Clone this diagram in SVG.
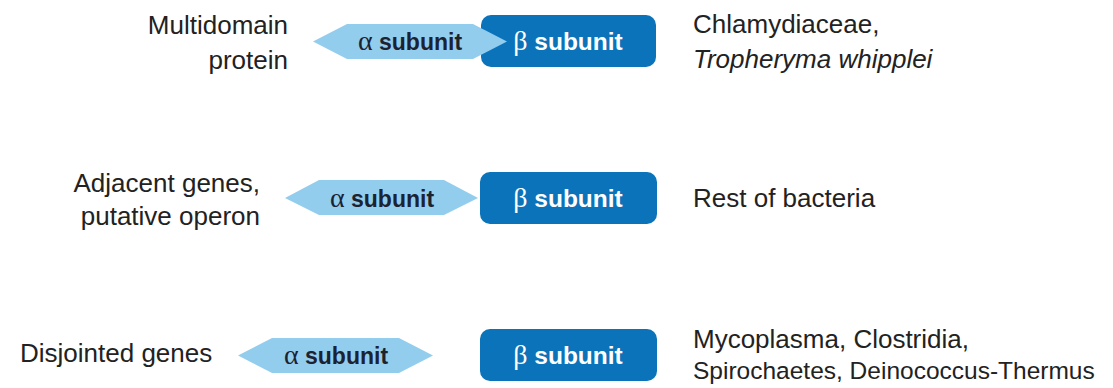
<svg xmlns="http://www.w3.org/2000/svg" width="1113" height="388" viewBox="0 0 1113 388">
  <style>
    .label { font-family: "Liberation Sans", Arial, sans-serif; font-size: 26px; fill: #222222; }
    .italic { font-style: italic; }
    .tight { font-size: 24.5px; }
    .alpha { fill: #93cdee; }
    .beta { fill: #0b73b9; }
    .atext { font-family: "Liberation Sans", Arial, sans-serif; font-size: 23px; font-weight: bold; fill: #1c2230; }
    .btext { font-family: "Liberation Sans", Arial, sans-serif; font-size: 24.5px; font-weight: bold; fill: #ffffff; }
    .greek { font-family: "Liberation Serif", "Times New Roman", serif; font-weight: normal; font-size: 28px; }
  </style>

  <!-- Row 1: multidomain protein -->
  <g id="row1-label">
    <text class="label" x="288" y="34" text-anchor="end">Multidomain</text>
    <text class="label" x="288" y="69" text-anchor="end">protein</text>
  </g>
  <g id="row1-beta">
    <rect class="beta" x="481" y="15" width="175" height="52" rx="10"/>
    <text class="btext" x="568" y="50" text-anchor="middle"><tspan class="greek">β</tspan> subunit</text>
  </g>
  <g id="row1-alpha">
    <polygon class="alpha" points="313,41.5 347,24 473,24 507,41.5 473,59 347,59"/>
    <text class="atext" x="410" y="50" text-anchor="middle"><tspan class="greek">α</tspan> subunit</text>
  </g>
  <g id="row1-taxa">
    <text class="label" x="693" y="33">Chlamydiaceae,</text>
    <text class="label italic" x="693" y="68">Tropheryma whipplei</text>
  </g>

  <!-- Row 2: adjacent genes -->
  <g id="row2-label">
    <text class="label" x="260" y="192" text-anchor="end">Adjacent genes,</text>
    <text class="label" x="260" y="225" text-anchor="end">putative operon</text>
  </g>
  <g id="row2-beta">
    <rect class="beta" x="480" y="172" width="177" height="52" rx="10"/>
    <text class="btext" x="568" y="207" text-anchor="middle"><tspan class="greek">β</tspan> subunit</text>
  </g>
  <g id="row2-alpha">
    <polygon class="alpha" points="285,198 319,180 444,180 478,198 444,215 319,215"/>
    <text class="atext" x="382" y="207" text-anchor="middle"><tspan class="greek">α</tspan> subunit</text>
  </g>
  <g id="row2-taxa">
    <text class="label" x="693" y="207">Rest of bacteria</text>
  </g>

  <!-- Row 3: disjointed genes -->
  <g id="row3-label">
    <text class="label" x="20" y="362">Disjointed genes</text>
  </g>
  <g id="row3-alpha">
    <polygon class="alpha" points="238,355.5 272,338 399,338 433,355.5 399,373 272,373"/>
    <text class="atext" x="336" y="364" text-anchor="middle"><tspan class="greek">α</tspan> subunit</text>
  </g>
  <g id="row3-beta">
    <rect class="beta" x="480" y="329" width="177" height="52" rx="10"/>
    <text class="btext" x="568" y="364" text-anchor="middle"><tspan class="greek">β</tspan> subunit</text>
  </g>
  <g id="row3-taxa">
    <text class="label" x="693" y="348">Mycoplasma, Clostridia,</text>
    <text class="label tight" x="693" y="379">Spirochaetes, Deinococcus-Thermus</text>
  </g>
</svg>
